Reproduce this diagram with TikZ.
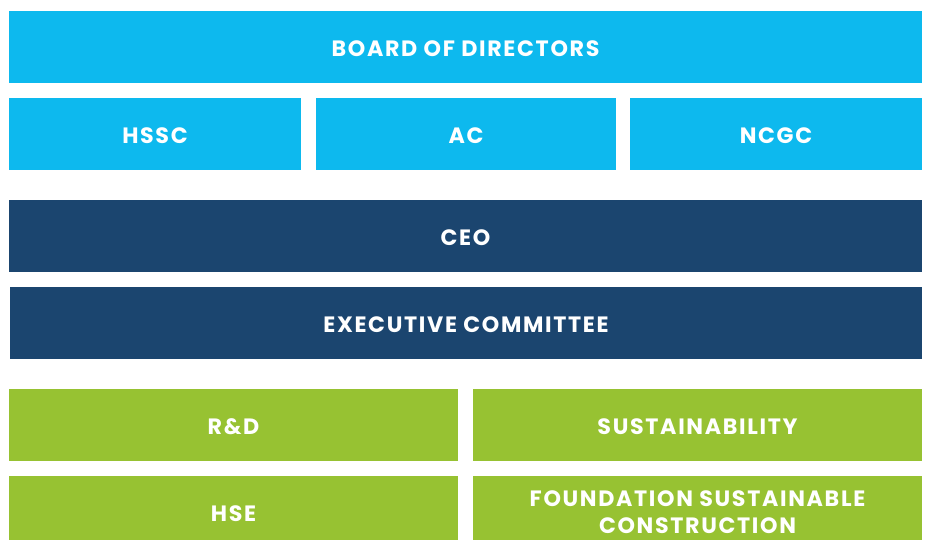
\documentclass[tikz,border=0pt]{standalone}
\usepackage{fontspec}
\setmainfont{Poppins}[LetterSpace=7.5]
\usetikzlibrary{positioning}

\definecolor{boardblue}{HTML}{0DB9EE}
\definecolor{execnavy}{HTML}{1B456F}
\definecolor{unitgreen}{HTML}{97C232}

\tikzset{
  orgbox/.style={inner sep=0pt, outer sep=0pt, text=white, align=center,
    font=\fontsize{22.2}{27}\selectfont\bfseries, anchor=north west},
  oneline/.style={text height=18.5pt, text depth=0pt},
  boardbox/.style={orgbox, oneline, fill=boardblue},
  execbox/.style={orgbox, oneline, fill=execnavy},
  unitbox/.style={orgbox, oneline, fill=unitgreen},
  twolinebox/.style={orgbox, fill=unitgreen},
}

\begin{document}
\begin{tikzpicture}[x=1pt,y=-1pt]
\useasboundingbox (0,0) rectangle (928,539);
\clip (0,0) rectangle (928,539);

% board and its committees
\node[boardbox, minimum width=913pt, minimum height=72pt] (board) at (9,11) {BOARD OF DIRECTORS};
\node[boardbox, minimum width=292pt, minimum height=72pt] (hssc) at (9,98) {HSSC};
\node[boardbox, minimum width=300pt, minimum height=72pt] (ac) at (316,98) {AC};
\node[boardbox, minimum width=292pt, minimum height=72pt] (ncgc) at (630,98) {NCGC};

% management
\node[execbox, minimum width=913pt, minimum height=72pt] (ceo) at (9,200) {CEO};
\node[execbox, minimum width=912pt, minimum height=72pt] (exco) at (10,287) {EXECUTIVE COMMITTEE};

% functions
\node[unitbox, minimum width=449pt, minimum height=72pt] (rnd) at (9,389) {R\&D};
\node[unitbox, minimum width=449pt, minimum height=72pt] (sust) at (473,389) {SUSTAINABILITY};
\node[unitbox, minimum width=449pt, minimum height=72pt] (hse) at (9,476) {HSE};
\node[twolinebox, minimum width=449pt, minimum height=72pt] (found) at (473,476) {FOUNDATION SUSTAINABLE\\CONSTRUCTION};
\end{tikzpicture}
\end{document}
